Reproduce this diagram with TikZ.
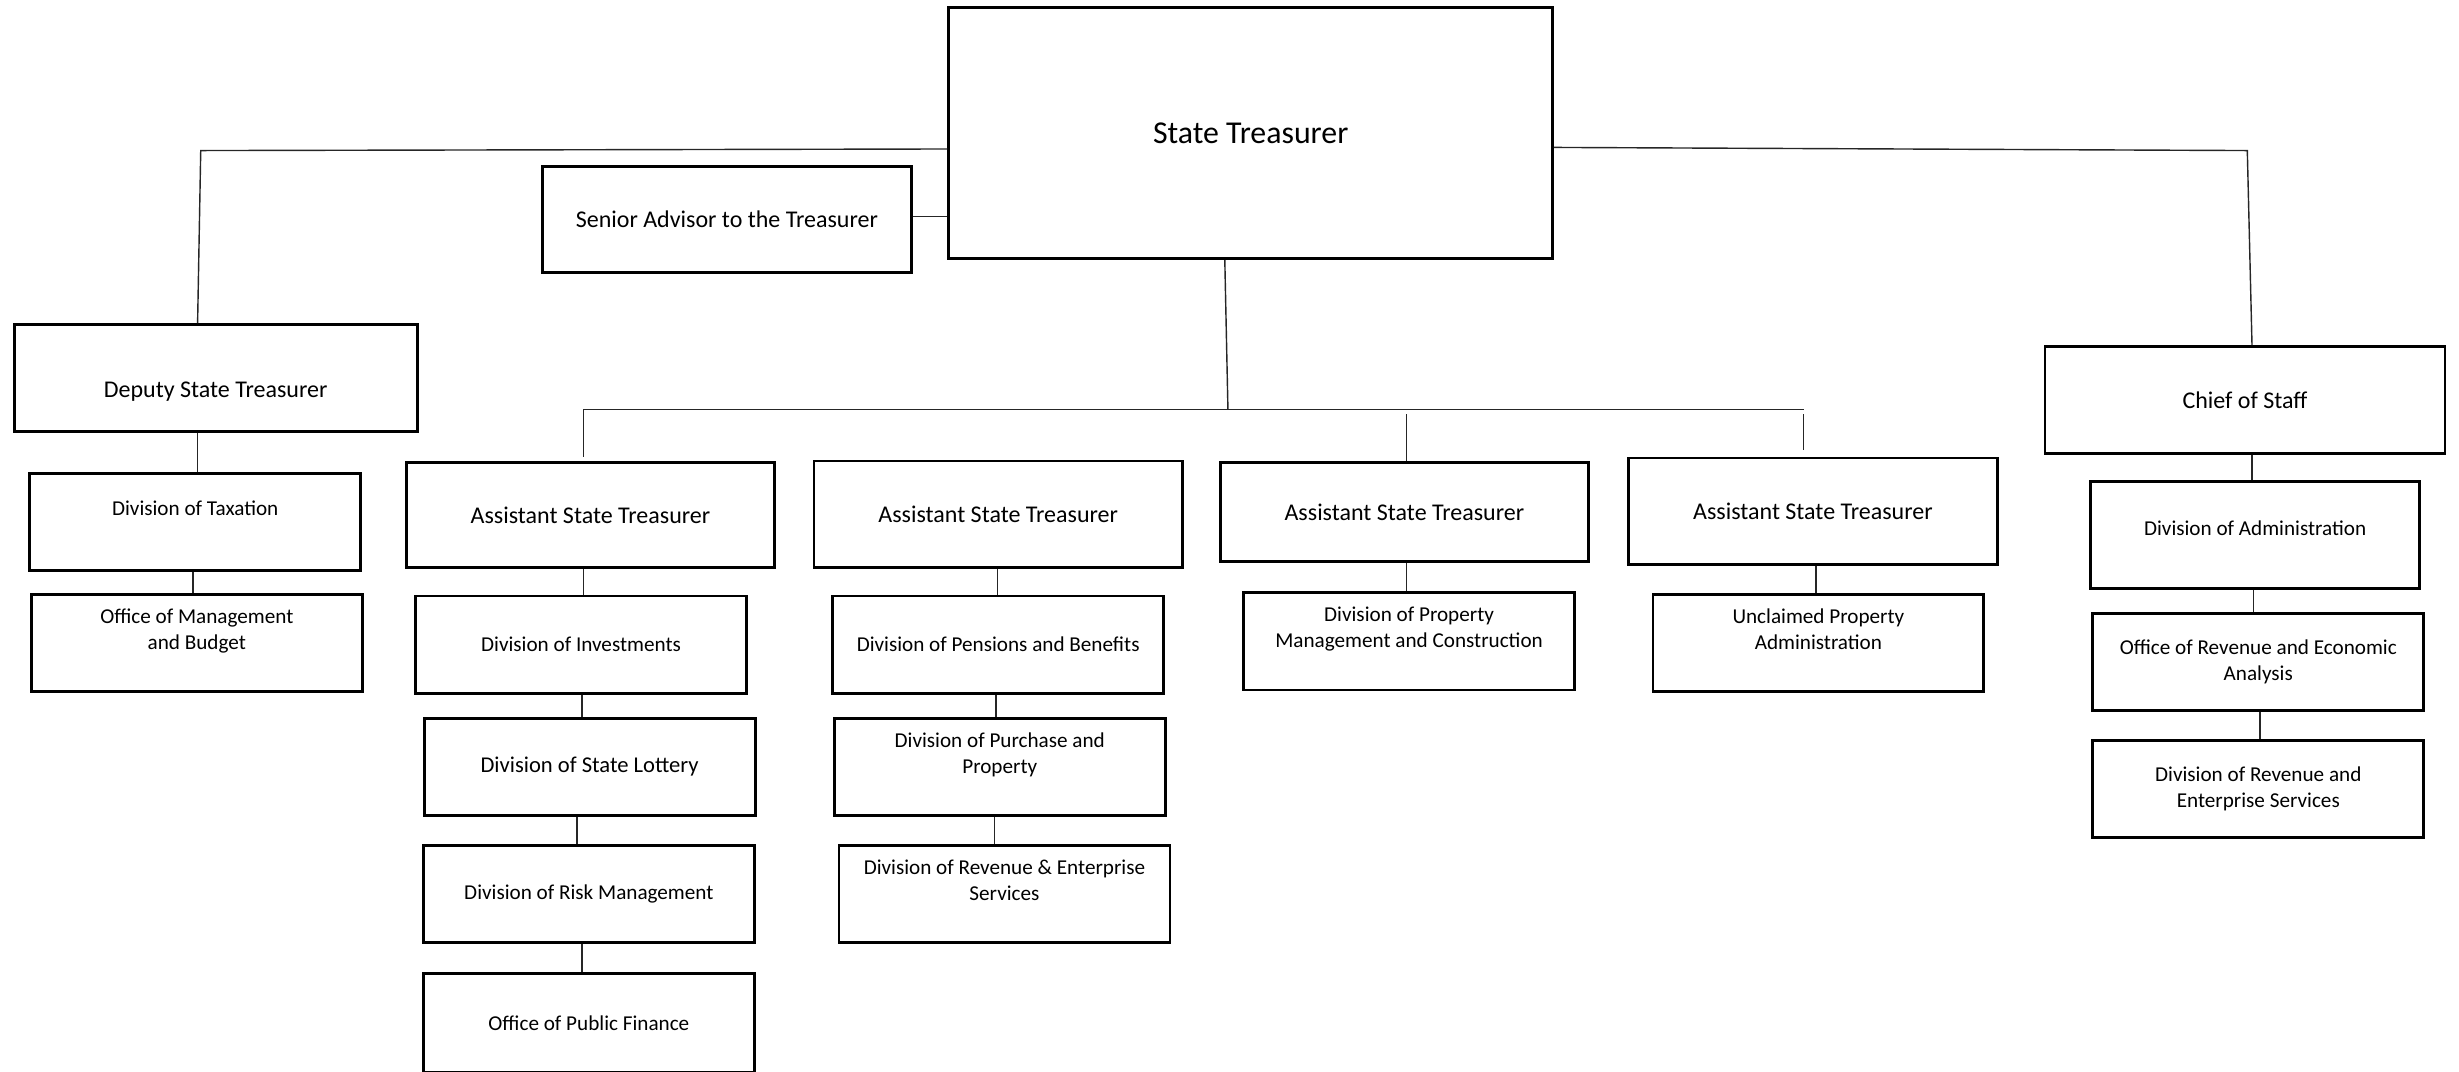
\documentclass[tikz,border=0pt]{standalone}
\usepackage{fontspec}
\setmainfont{Carlito}
\usepackage{tikz}
\usetikzlibrary{positioning}

\newcommand{\TxtS}{\fontsize{13.5}{16.5}\selectfont}
\newcommand{\TxtM}{\fontsize{14.4}{17}\selectfont}
\newcommand{\TxtL}{\fontsize{15.3}{18}\selectfont}
\newcommand{\TxtXL}{\fontsize{20.3}{24}\selectfont}

\begin{document}
\begin{tikzpicture}[x=1pt,y=-1pt,% one unit per pixel of the chart, y runs down
    every node/.style={
      align=center,        % so that "\\" breaks the line
      rectangle,draw=black,line width=1.8pt,inner sep=0pt,font=\TxtS
    },
    divbox/.style={minimum width=211pt,minimum height=62pt},
    headbox/.style={minimum width=235pt,minimum height=68pt,font=\TxtL},
    raised/.style={text depth=18pt},   % text sits near the top of the box
    link/.style={draw=black!85,line width=0.9pt}
  ]
  \useasboundingbox (0,0) rectangle (1568,683);

  % top level
  \node[minimum width=385pt,minimum height=160pt,font=\TxtXL](ST) at (797.5,85){State Treasurer};
  \node[headbox](SA) at (463.5,140){Senior Advisor to the Treasurer};

  % left branch
  \node[headbox,minimum width=257pt,text height=27pt](DST) at (137.5,241){Deputy State Treasurer};
  \node[divbox,raised](DT) at (124.5,333){Division of Taxation};
  \node[divbox,raised](OMB) at (125.5,410){Office of Management\\and Budget};

  % assistant treasurers
  \node[headbox,minimum height=67pt](AST1) at (376.5,328.5){Assistant State Treasurer};
  \node[headbox](AST2) at (636.5,328){Assistant State Treasurer};
  \node[headbox,minimum height=63pt](AST3) at (895.5,326.5){Assistant State Treasurer};
  \node[headbox](AST4) at (1156,326){Assistant State Treasurer};

  \node[divbox](DI) at (370.5,411){Division of Investments};
  \node[divbox,font=\TxtM](DSL) at (376,489){Division of State Lottery};
  \node[divbox](DRM) at (375.5,570){Division of Risk Management};
  \node[divbox,minimum height=63pt](OPF) at (375.5,652.5){Office of Public Finance};

  \node[divbox](DPB) at (636.5,411){Division of Pensions and Benefits};
  \node[divbox,raised](DPP) at (637.5,489){Division of Purchase and\\Property};
  \node[divbox,raised](DRE) at (640.5,570){Division of Revenue \& Enterprise\\Services};

  \node[divbox,raised](DPM) at (898.5,409){Division of Property\\Management and Construction};
  \node[divbox,raised](UPA) at (1159.5,410){Unclaimed Property\\Administration};

  % right branch
  \node[headbox,minimum width=255pt](CS) at (1431.5,255){Chief of Staff};
  \node[divbox,minimum width=210pt,minimum height=68pt,text depth=8pt](DA) at (1438,341){Division of Administration};
  \node[divbox](OREA) at (1440,422){Office of Revenue and Economic\\Analysis};
  \node[divbox](DRES) at (1440,503){Division of Revenue and\\Enterprise Services};

  \coordinate (bus) at (783,261);

  % connectors
  \draw[link] (ST.west |- 0,95) -- (128,96) -- (DST.north -| 126,0);
  \draw[link] (ST.east |- 0,94) -- (1433,96) -- (CS.north -| 1436,0);
  \draw[link] (SA.east |- 0,138) -- (ST.west |- 0,138);
  \draw[link] (ST.south -| 781,0) -- (bus);
  \draw[link,shorten <=3pt] (AST1.north -| 372,0) |- (bus) -- (bus -| 1150,0);
  \draw[link,shorten <=3pt] (bus -| 897,0) -- (AST3.north -| 897,0);
  \draw[link,shorten <=3pt,shorten >=4pt] (bus -| 1150,0) -- (AST4.north -| 1150,0);

  \draw[link] (DST.south -| 126,0) -- (DT.north -| 126,0);
  \draw[link] (DT.south -| 123,0) -- (OMB.north -| 123,0);

  \draw[link] (AST1.south -| 372,0) -- (DI.north -| 372,0);
  \draw[link] (DI.south -| 371,0) -- (DSL.north -| 371,0);
  \draw[link] (DSL.south -| 368,0) -- (DRM.north -| 368,0);
  \draw[link] (DRM.south -| 371,0) -- (OPF.north -| 371,0);

  \draw[link] (AST2.south -| 636,0) -- (DPB.north -| 636,0);
  \draw[link] (DPB.south -| 635,0) -- (DPP.north -| 635,0);
  \draw[link] (DPP.south -| 634,0) -- (DRE.north -| 634,0);

  \draw[link] (AST3.south -| 897,0) -- (DPM.north -| 897,0);
  \draw[link] (AST4.south -| 1158,0) -- (UPA.north -| 1158,0);

  \draw[link] (CS.south -| 1436,0) -- (DA.north -| 1436,0);
  \draw[link] (DA.south -| 1437,0) -- (OREA.north -| 1437,0);
  \draw[link] (OREA.south -| 1441,0) -- (DRES.north -| 1441,0);
\end{tikzpicture}
\end{document}
